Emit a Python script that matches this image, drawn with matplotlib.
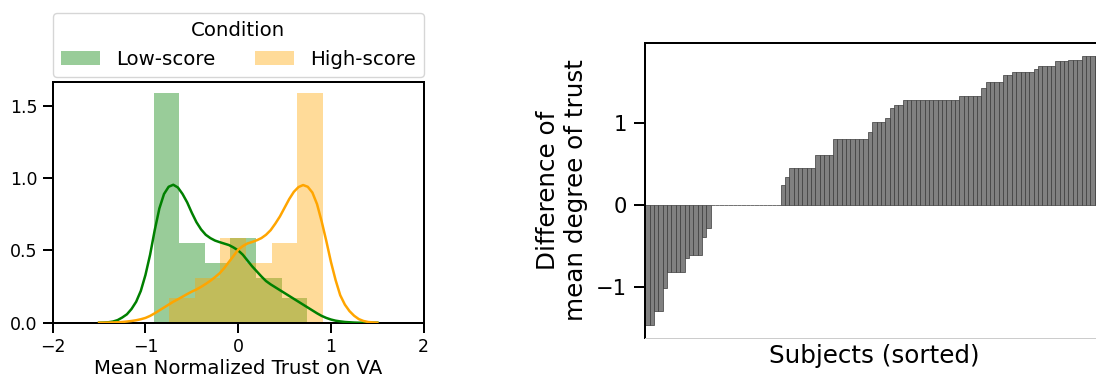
import numpy as np
import matplotlib
matplotlib.use('Agg')
import matplotlib.pyplot as plt

# { Data

conditions = ['Low-score', 'High-score']

# histogram bins and counts (n = 105 per condition)
edges_low = [-0.913, -0.637, -0.360, -0.084, 0.193, 0.469, 0.746]
counts_low = [46, 16, 12, 17, 9, 5]
edges_high = [-0.746, -0.469, -0.193, 0.084, 0.360, 0.637, 0.913]
counts_high = [5, 9, 17, 12, 16, 46]

# kde curves
kde_x = [-1.50, -1.45, -1.40, -1.35, -1.30, -1.25, -1.20, -1.15, -1.10, -1.05,
         -1.00, -0.95, -0.90, -0.85, -0.80, -0.75, -0.70, -0.65, -0.60, -0.55,
         -0.50, -0.45, -0.40, -0.35, -0.30, -0.25, -0.20, -0.15, -0.10, -0.05,
         0.00, 0.05, 0.10, 0.15, 0.20, 0.25, 0.30, 0.35, 0.40, 0.45,
         0.50, 0.55, 0.60, 0.65, 0.70, 0.75, 0.80, 0.85, 0.90, 0.95,
         1.00, 1.05, 1.10, 1.15, 1.20, 1.25, 1.30, 1.35, 1.40, 1.45, 1.50]
kde_low = [0.000, 0.001, 0.003, 0.008, 0.018, 0.036, 0.058, 0.095, 0.145, 0.220,
           0.330, 0.470, 0.640, 0.790, 0.890, 0.940, 0.954, 0.935, 0.890, 0.832,
           0.760, 0.695, 0.645, 0.608, 0.585, 0.568, 0.557, 0.547, 0.537, 0.520,
           0.500, 0.470, 0.430, 0.390, 0.355, 0.320, 0.288, 0.265, 0.245, 0.225,
           0.205, 0.185, 0.165, 0.145, 0.125, 0.105, 0.085, 0.065, 0.047, 0.033,
           0.022, 0.014, 0.009, 0.005, 0.003, 0.001, 0.000, 0.000, 0.000, 0.000, 0.000]
kde_high = [0.000, 0.000, 0.001, 0.002, 0.003, 0.005, 0.008, 0.012, 0.017, 0.024,
            0.033, 0.047, 0.065, 0.085, 0.105, 0.125, 0.145, 0.162, 0.180, 0.198,
            0.215, 0.230, 0.248, 0.268, 0.290, 0.315, 0.342, 0.378, 0.420, 0.462,
            0.505, 0.530, 0.548, 0.558, 0.570, 0.585, 0.608, 0.640, 0.685, 0.735,
            0.795, 0.855, 0.905, 0.938, 0.952, 0.940, 0.900, 0.820, 0.700, 0.565,
            0.420, 0.295, 0.190, 0.125, 0.080, 0.048, 0.025, 0.012, 0.005, 0.002, 0.000]

# difference of mean degree of trust per subject (sorted)
diff_trust = [-1.46, -1.46, -1.29, -1.29, -1.01,
              -0.81, -0.81, -0.81, -0.81, -0.64,
              -0.61, -0.61, -0.61, -0.39, -0.28,
              0, 0, 0, 0, 0, 0, 0, 0, 0, 0, 0, 0, 0, 0, 0, 0,
              0.25, 0.34,
              0.45, 0.45, 0.45, 0.45, 0.45, 0.45,
              0.61, 0.61, 0.61, 0.61,
              0.81, 0.81, 0.81, 0.81, 0.81, 0.81, 0.81, 0.81,
              0.89, 1.02, 1.02, 1.02, 1.06, 1.19, 1.22, 1.22,
              1.29, 1.29, 1.29, 1.29, 1.29, 1.29, 1.29, 1.29, 1.29, 1.29, 1.29, 1.29, 1.29,
              1.33, 1.33, 1.33, 1.33, 1.33,
              1.43, 1.50, 1.50, 1.50, 1.50, 1.585, 1.585,
              1.63, 1.63, 1.63, 1.63, 1.63, 1.66,
              1.695, 1.695, 1.695, 1.695,
              1.76, 1.76, 1.76, 1.77, 1.77, 1.77,
              1.82, 1.82, 1.82, 1.82, 1.82]

# }

W, H, DPI = 1096, 376, 100
pt = 72.0 / DPI     # px -> pt

fig = plt.figure(figsize=(W / DPI, H / DPI), dpi=DPI)

# { Left panel: distributions

ax1 = fig.add_axes([52.7 / W, 1 - 322.7 / H, 371 / W, 241 / H])

centers_low = [(a + b) / 2 for a, b in zip(edges_low[:-1], edges_low[1:])]
centers_high = [(a + b) / 2 for a, b in zip(edges_high[:-1], edges_high[1:])]

ax1.hist(centers_low, bins=edges_low, weights=counts_low, density=True,
         color='green', alpha=0.4, label=conditions[0])
ax1.hist(centers_high, bins=edges_high, weights=counts_high, density=True,
         color='orange', alpha=0.4, label=conditions[1])
ax1.plot(kde_x, kde_low, color='green', lw=2.5 * pt, zorder=3)
ax1.plot(kde_x, kde_high, color='orange', lw=2.5 * pt, zorder=3)

ax1.set_xlim(-2, 2)
ax1.set_xticks([-2, -1, 0, 1, 2])
ax1.set_yticks([0.0, 0.5, 1.0, 1.5])
ax1.tick_params(labelsize=17.4 * pt, length=10 * pt, width=2 * pt, pad=4)
for s in ax1.spines.values():
    s.set_linewidth(2 * pt)
ax1.set_xlabel('Mean Normalized Trust on VA', fontsize=19.8 * pt, labelpad=2)

leg = ax1.legend(loc='lower left', bbox_to_anchor=(0, 1.02, 1, 0.2), mode='expand',
                 ncol=2, borderaxespad=0, title='Condition',
                 fontsize=19.8 * pt, title_fontsize=19.8 * pt)

# }

# { Right panel: sorted differences

ax2 = fig.add_axes([645.3 / W, 1 - 338.3 / H, 458.1 / W, 295.6 / H])

idx = np.arange(len(diff_trust))
ax2.bar(idx, diff_trust, width=1.0, color='gray', edgecolor='#3a3a3a', linewidth=0.5)
ax2.set_xlim(-0.5, len(diff_trust) - 0.5)
ax2.set_xticks([])
ax2.set_yticks([-1, 0, 1])
ax2.tick_params(labelsize=21 * pt, length=11 * pt, width=2 * pt, pad=5)
for s in ax2.spines.values():
    s.set_linewidth(2 * pt)
ax2.spines['bottom'].set_color('#cccccc')
ax2.spines['bottom'].set_linewidth(1 * pt)
ax2.set_xlabel('Subjects (sorted)', fontsize=24.6 * pt, labelpad=4)
ax2.set_ylabel('Difference of\nmean degree of trust', fontsize=24.6 * pt, labelpad=6)

# }

fig.savefig('out.png', dpi=DPI)
